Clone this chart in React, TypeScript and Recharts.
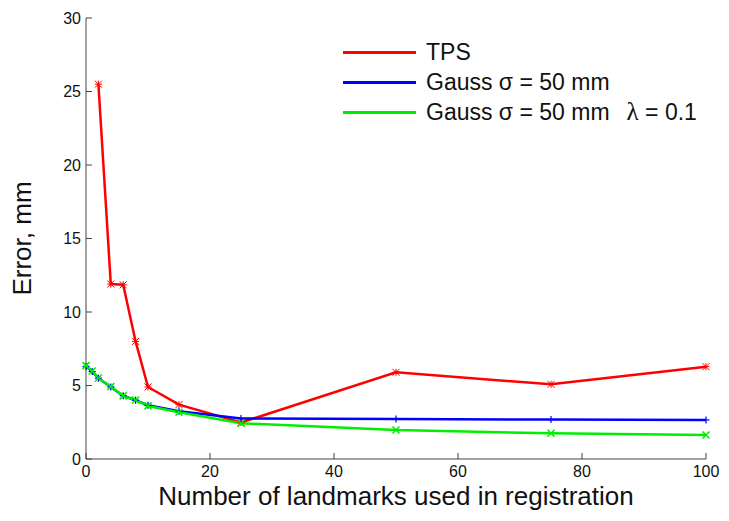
import React from "react";
import { LineChart, Line, XAxis, YAxis, Legend } from "recharts";

// landmark counts on the x axis
const landmarks = [0, 1, 2, 4, 6, 8, 10, 15, 25, 50, 75, 100];

// error in mm, null where the series has no point
const tpsError = [null, null, 25.5, 11.9, 11.85, 8.0, 4.9, 3.7, 2.48, 5.9, 5.08, 6.28];
const gaussError = [6.3, 5.95, 5.5, 4.9, 4.3, 4.0, 3.65, 3.25, 2.75, 2.72, 2.68, 2.66];
const gaussRegError = [6.35, 5.99, 5.51, 4.92, 4.29, 4.01, 3.61, 3.18, 2.43, 1.97, 1.75, 1.63];

const xTicks = [0, 20, 40, 60, 80, 100];
const yTicks = [0, 5, 10, 15, 20, 25, 30];

const data = landmarks.map((n, i) => ({
  n,
  tps: tpsError[i],
  gauss: gaussError[i],
  gaussReg: gaussRegError[i],
}));

const FONT = '"Liberation Sans", Arial, Helvetica, sans-serif';
const AXIS = "#444444";

// MATLAB-style markers
function makeDot(kind: "star" | "plus" | "cross", color: string) {
  return (props: any) => {
    const { cx, cy, value, index } = props;
    if (cx == null || cy == null || value == null) return <g key={`e-${index}`} />;
    const r = 3.5;
    if (kind === "plus") {
      return (
        <g key={`d-${index}`} stroke={color} strokeWidth={1.2}>
          <line x1={cx - r} y1={cy} x2={cx + r} y2={cy} />
          <line x1={cx} y1={cy - r} x2={cx} y2={cy + r} />
        </g>
      );
    }
    if (kind === "cross") {
      return (
        <g key={`d-${index}`} stroke={color} strokeWidth={1.6}>
          <line x1={cx - r} y1={cy - r} x2={cx + r} y2={cy + r} />
          <line x1={cx - r} y1={cy + r} x2={cx + r} y2={cy - r} />
        </g>
      );
    }
    return (
      <g key={`d-${index}`} stroke={color} strokeWidth={1}>
        <line x1={cx - r} y1={cy - r} x2={cx + r} y2={cy + r} />
        <line x1={cx - r} y1={cy + r} x2={cx + r} y2={cy - r} />
        <line x1={cx} y1={cy - r} x2={cx} y2={cy + r} />
        <line x1={cx - r} y1={cy} x2={cx + r} y2={cy} />
      </g>
    );
  };
}

const legendRows = [
  { color: "#ff0000", label: "TPS", extra: null },
  { color: "#0000ff", label: "Gauss σ = 50 mm", extra: null },
  { color: "#00ee00", label: "Gauss σ = 50 mm", extra: "= 0.1" },
];

function renderLegend() {
  return (
    <div style={{ fontFamily: FONT, fontSize: 23, color: "#111" }}>
      {legendRows.map((row, i) => (
        <div key={i} style={{ display: "flex", alignItems: "center", height: 30 }}>
          <div style={{ width: 73, height: 3, background: row.color, marginRight: 10 }} />
          <span style={{ whiteSpace: "pre" }}>{row.label}</span>
          {row.extra && (
            <span style={{ whiteSpace: "pre", marginLeft: 17 }}>
              <span style={{ fontFamily: '"Liberation Serif", "Times New Roman", serif', fontSize: 25 }}>λ</span>
              {" " + row.extra}
            </span>
          )}
        </div>
      ))}
    </div>
  );
}

export default function App() {
  return (
    <div style={{ width: 729, height: 521, background: "#ffffff", fontFamily: FONT }}>
      <style>{`body { margin: 0; }`}</style>
      <LineChart width={729} height={521} data={data} margin={{ top: 18, right: 23, bottom: 0, left: 0 }}>
        <XAxis
          dataKey="n"
          type="number"
          domain={[0, 100]}
          ticks={xTicks}
          height={62}
          stroke={AXIS}
          tickSize={-6}
          tickMargin={13}
          tick={{ fontSize: 16, fill: "#111", fontFamily: FONT }}
          label={{
            value: "Number of landmarks used in registration",
            position: "insideBottom",
            offset: 16,
            style: { fontSize: 26, fill: "#111", fontFamily: FONT },
          }}
        />
        <XAxis
          xAxisId="top"
          orientation="top"
          dataKey="n"
          type="number"
          domain={[0, 100]}
          ticks={xTicks}
          height={0}
          stroke={AXIS}
          tickSize={-6}
          tick={false}
        />
        <YAxis
          type="number"
          domain={[0, 30]}
          ticks={yTicks}
          width={86}
          stroke={AXIS}
          tickSize={-6}
          tickMargin={11}
          tick={{ fontSize: 16, fill: "#111", fontFamily: FONT }}
          label={{
            value: "Error, mm",
            angle: -90,
            position: "insideLeft",
            offset: 22,
            style: { fontSize: 26, fill: "#111", fontFamily: FONT, textAnchor: "middle" },
          }}
        />
        <YAxis
          yAxisId="right"
          orientation="right"
          type="number"
          domain={[0, 30]}
          ticks={yTicks}
          width={0}
          stroke={AXIS}
          tickSize={-6}
          tick={false}
        />
        <Legend
          content={renderLegend}
          verticalAlign="middle"
          align="center"
          wrapperStyle={{ position: "absolute", top: 37, left: 343, width: 386 }}
        />
        <Line
          dataKey="tps"
          stroke="#ff0000"
          strokeWidth={2.5}
          dot={makeDot("star", "#ff0000")}
          isAnimationActive={false}
        />
        <Line
          dataKey="gauss"
          stroke="#0000ff"
          strokeWidth={2.5}
          dot={makeDot("plus", "#0000ff")}
          isAnimationActive={false}
        />
        <Line
          dataKey="gaussReg"
          stroke="#00ee00"
          strokeWidth={2.5}
          dot={makeDot("cross", "#00ee00")}
          isAnimationActive={false}
        />
      </LineChart>
    </div>
  );
}
